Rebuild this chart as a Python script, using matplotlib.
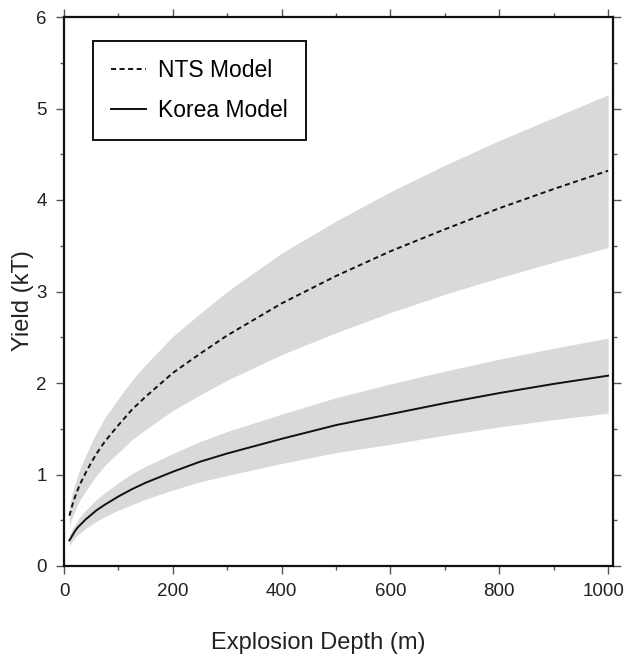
import matplotlib
matplotlib.use("Agg")
import matplotlib.pyplot as plt
from matplotlib.ticker import MultipleLocator
from matplotlib.transforms import ScaledTranslation

plt.rcParams['font.family'] = ['Liberation Sans', 'DejaVu Sans']

depth = [10, 15, 20, 25, 30, 40, 50, 60, 75, 100, 125, 150, 200, 250, 300, 400, 500, 600, 700, 800, 900, 1000]

nts_mid = [0.55, 0.66, 0.75, 0.83, 0.90, 1.02, 1.13, 1.23, 1.36, 1.54, 1.71, 1.85, 2.11, 2.32, 2.52, 2.87, 3.17, 3.44, 3.68, 3.91, 4.12, 4.32]
nts_hi = [0.65, 0.79, 0.89, 0.99, 1.07, 1.21, 1.34, 1.46, 1.62, 1.83, 2.03, 2.20, 2.51, 2.76, 3.00, 3.42, 3.77, 4.09, 4.38, 4.65, 4.90, 5.15]
nts_lo = [0.44, 0.53, 0.60, 0.67, 0.73, 0.82, 0.91, 0.99, 1.10, 1.24, 1.38, 1.49, 1.70, 1.87, 2.03, 2.31, 2.55, 2.77, 2.97, 3.15, 3.32, 3.48]

kor_mid = [0.28, 0.33, 0.38, 0.42, 0.45, 0.51, 0.56, 0.61, 0.67, 0.76, 0.84, 0.91, 1.03, 1.14, 1.23, 1.39, 1.54, 1.66, 1.78, 1.89, 1.99, 2.08]
kor_hi = [0.34, 0.40, 0.45, 0.50, 0.54, 0.61, 0.67, 0.73, 0.80, 0.91, 1.01, 1.09, 1.23, 1.36, 1.47, 1.66, 1.84, 1.99, 2.13, 2.26, 2.38, 2.49]
kor_lo = [0.22, 0.27, 0.31, 0.34, 0.36, 0.41, 0.45, 0.49, 0.54, 0.61, 0.67, 0.73, 0.83, 0.92, 0.99, 1.12, 1.24, 1.33, 1.43, 1.52, 1.60, 1.67]

labels = ["NTS Model", "Korea Model"]

fig = plt.figure(figsize=(6.24, 6.58), dpi=100)
ax = fig.add_axes([64/624, 1 - 566/658, 549/624, 549/658])

band_color = "#d9d9d9"
ax.fill_between(depth, nts_lo, nts_hi, color=band_color, lw=0)
ax.fill_between(depth, kor_lo, kor_hi, color=band_color, lw=0)
ax.plot(depth, nts_mid, color="#111111", lw=1.4, ls=(0, (2.6, 1.8)), label=labels[0])
ax.plot(depth, kor_mid, color="#111111", lw=1.4, ls="-", label=labels[1])

ax.set_xlim(0, 1009)
ax.set_ylim(0, 6)
ax.xaxis.set_major_locator(MultipleLocator(200))
ax.xaxis.set_minor_locator(MultipleLocator(100))
ax.yaxis.set_major_locator(MultipleLocator(1))
ax.yaxis.set_minor_locator(MultipleLocator(0.5))
ax.tick_params(which="both", direction="out", top=True, right=True, width=1.0, colors="#555555",
               labelcolor="#222222")
ax.tick_params(which="major", length=5.5, labelsize=13.5, pad=7)
ax.tick_params(which="minor", length=3)
for s in ax.spines.values():
    s.set_linewidth(1.6)
    s.set_color("#111111")

ax.set_xlabel("Explosion Depth (m)", fontsize=17, color="#222222")
ax.set_ylabel("Yield (kT)", fontsize=17, color="#222222")
ax.xaxis.set_label_coords(0.463, -0.140)
ax.xaxis.label.set_va("center")
ax.yaxis.set_label_coords(-0.0747, 0.483)
ax.yaxis.label.set_va("center")

leg = ax.legend(loc="upper left", bbox_to_anchor=(0.0528, 0.956), fontsize=16.5,
                frameon=True, fancybox=False, edgecolor="#111111", framealpha=1,
                handlelength=1.5, handletextpad=0.55, borderpad=0.8, labelspacing=0.72,
                borderaxespad=0)
leg.get_frame().set_linewidth(1.4)

# keep the last x tick label inside the figure, as in the reference
fig.canvas.draw()
last = ax.get_xticklabels()[-1]
for lab in ax.get_xticklabels():
    if lab.get_text() == "1000":
        lab.set_transform(lab.get_transform() + ScaledTranslation(-5/100, 0, fig.dpi_scale_trans))

fig.savefig("out.png", dpi=100)
